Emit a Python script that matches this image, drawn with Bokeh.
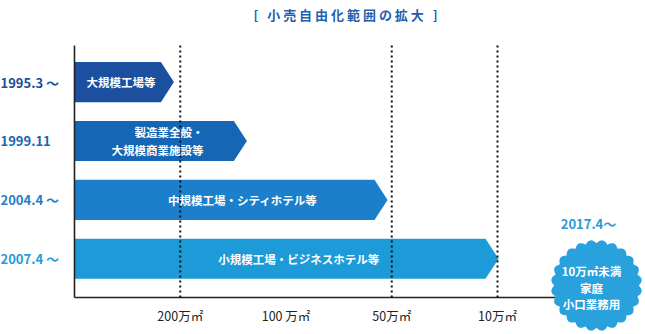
import numpy as np
from bokeh.plotting import figure
from bokeh.models import Range1d, Label
from bokeh.embed import file_html
from bokeh.resources import INLINE
from bokeh.core.properties import value

# ---------------- data ----------------
periods = ["1995.3 ～", "1999.11", "2004.4 ～", "2007.4 ～"]
segments = ["大規模工場等", "製造業全般・\n大規模商業施設等",
            "中規模工場・シティホテル等", "小規模工場・ビジネスホテル等"]
reach = [0.94, 1.63, 2.96, 4.01]          # how far each phase extends along the size scale
rows = [4, 3, 2, 1]
tick_pos = [1, 2, 3, 4]
tick_labels = ["200万㎡", "100 万㎡", "50万㎡", "10万㎡"]
grid_pos = [1, 3, 4]
final_period = "2017.4～"
final_segment = "10万㎡未満\n家庭\n小口業務用"
title_chars = "小売自由化範囲の拡大"

# ---------------- styling / layout ----------------
W, H = 645, 334
PX_X, X0 = 105.75, 74.0          # px per x unit, px of x=0
PX_Y, Y1 = 58.9, 258.3           # px per row, px of row 1
bar_colors = ["#1b4f9f", "#1566b4", "#1b7fcb", "#1d9bd9"]
year_colors = ["#1d4f9c", "#1865b0", "#1f7fc8", "#2a9bd8"]
badge_color = "#29a1dd"
FONT = value("Noto Sans CJK JP")
HALF = 0.34
HEAD = 0.123
label_x = [0.44, 1.22, 1.59, 2.12]
axis_y = 1 - (297 - Y1) / PX_Y
axis_top = 1 + (Y1 - 45) / PX_Y
NB = "\u00a0"
title_text = "[" + NB * 3 + NB.join(title_chars) + NB * 3 + "]"

x_range = Range1d(-X0 / PX_X, (W - X0) / PX_X)
y_range = Range1d(1 - (H - Y1) / PX_Y, 1 + Y1 / PX_Y)

p = figure(width=W, height=H, x_range=x_range, y_range=y_range,
           output_backend="svg", toolbar_location=None, min_border=0,
           x_axis_type=None, y_axis_type=None)
p.grid.visible = False
p.outline_line_color = None
p.background_fill_color = "white"
p.border_fill_color = "white"

# arrows
xs, ys = [], []
for r, y in zip(reach, rows):
    xs.append([0, r - HEAD, r, r - HEAD, 0])
    ys.append([y - HALF, y - HALF, y, y + HALF, y + HALF])
p.patches(xs, ys, fill_color=bar_colors, line_color=None)

# axes lines
p.segment(x0=[0], y0=[axis_y], x1=[0], y1=[axis_top], line_color="#222222", line_width=1.6)
badge_cx = (596 - X0) / PX_X
badge_cy = 1 - (285 - Y1) / PX_Y
R = 45.5
p.segment(x0=[0], y0=[axis_y], x1=[badge_cx - R / PX_X + 0.05], y1=[axis_y],
          line_color="#222222", line_width=1.6)

# dotted guides
p.segment(x0=grid_pos, y0=[axis_y] * len(grid_pos), x1=grid_pos, y1=[axis_top] * len(grid_pos),
          line_color="#111111", line_width=2, line_dash="2 3")

# bar labels
single = [0, 2, 3]
p.text(x=[label_x[i] for i in single], y=[rows[i] for i in single],
       text=[segments[i] for i in single], text_color="white",
       text_font=FONT, text_font_size="11.5px", text_font_style="bold",
       text_align="center", text_baseline="middle")
p.text(x=[label_x[1]], y=[rows[1]], text=[segments[1]], text_color="white",
       text_font=FONT, text_font_size="11.5px", text_font_style="bold",
       text_align="right", text_baseline="middle", text_line_height=1.12)

# year labels
p.text(x=[x_range.start] * 4, y=rows, text=periods, text_color=year_colors,
       text_font=FONT, text_font_size="13px", text_font_style="bold",
       text_align="left", text_baseline="middle")

# tick labels
p.text(x=tick_pos, y=[1 - (315 - Y1) / PX_Y] * 4, text=tick_labels, text_color="#222222",
       text_font=FONT, text_font_size="12.5px", text_align="center", text_baseline="middle")

# badge (scalloped seal)
th = np.linspace(0, 2 * np.pi, 481)
rr = R - 3.2 + 3.2 * np.abs(np.sin(12 * th))
p.patch(badge_cx + rr * np.cos(th) / PX_X, badge_cy + rr * np.sin(th) / PX_Y,
        fill_color=badge_color, line_color=None)
p.text(x=[(591 - X0) / PX_X], y=[1 - (287.3 - Y1) / PX_Y], text=[final_segment],
       text_color="white", text_font=FONT, text_font_size="11.5px", text_font_style="bold",
       text_align="center", text_baseline="middle", text_line_height=1.04)
p.text(x=[(588 - X0) / PX_X], y=[1 + (Y1 - 223) / PX_Y], text=[final_period],
       text_color=year_colors[3], text_font=FONT, text_font_size="13px",
       text_font_style="bold", text_align="center", text_baseline="middle")

# title
p.add_layout(Label(x=345, y=H - 14, x_units="screen", y_units="screen", text=title_text,
                   text_font="Noto Sans CJK JP", text_font_size="13px", text_font_style="bold",
                   text_color="#1f5fae", text_align="center", text_baseline="middle"))

open("out.html", "w").write(file_html(p, INLINE))
